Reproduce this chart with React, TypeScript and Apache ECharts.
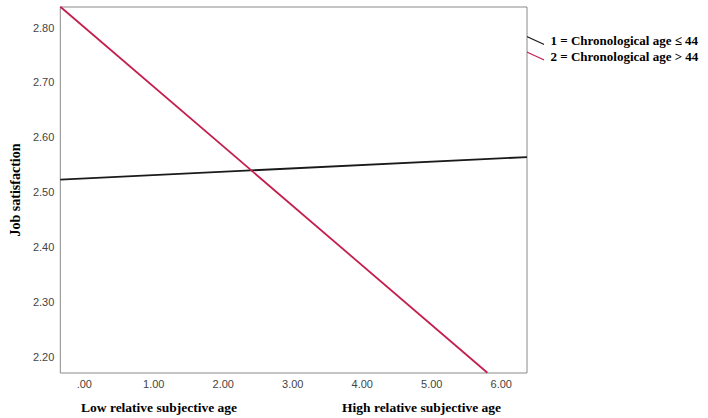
import React, { useEffect, useRef } from "react";
import * as echarts from "echarts";

const seriesNames = ["1 = Chronological age \u2264 44", "2 = Chronological age > 44"];
const seriesColors = ["#1a1a1a", "#c41f4e"];
const ageLe44X = [-0.345, 6.37];
const ageLe44Y = [2.523, 2.564];
const ageGt44X = [-0.345, 5.8];
const ageGt44Y = [2.838, 2.171];
const xTicks = [0, 1, 2, 3, 4, 5, 6];
const yTicks = [2.2, 2.3, 2.4, 2.5, 2.6, 2.7, 2.8];
const xRange = [-0.345, 6.37];
const yRange = [2.1705, 2.8375];
const xTitles = ["Low relative subjective age", "High relative subjective age"];
const yTitle = "Job satisfaction";

const serif = "'Liberation Serif', 'Times New Roman', serif";
const sans = "'Liberation Sans', Arial, sans-serif";

export default function App() {
  const ref = useRef<HTMLDivElement>(null);
  useEffect(() => {
    if (!ref.current) return;
    const chart = echarts.init(ref.current, null, { renderer: "svg" });
    const fmt = (v: number) => (v === 0 ? ".00" : v.toFixed(2));
    chart.setOption({
      animation: false,
      backgroundColor: "#ffffff",
      grid: {
        left: 51,
        top: 7,
        right: 181,
        bottom: 45,
        show: true,
        borderColor: "#8a8a8a",
        borderWidth: 1,
        backgroundColor: "transparent",
      },
      legend: {
        orient: "vertical",
        left: 527,
        top: 34,
        padding: 0,
        itemWidth: 20,
        itemHeight: 9,
        itemGap: 2.5,
        icon: "path://M0,0 L20,9 L20,10.6 L0,1.6 Z",
        textStyle: { fontFamily: serif, fontWeight: "bold", fontSize: 13, color: "#000" },
        data: seriesNames,
      },
      xAxis: {
        type: "value",
        min: xRange[0],
        max: xRange[1],
        axisLine: { show: false },
        axisTick: { show: false },
        splitLine: { show: false },
        axisLabel: {
          customValues: xTicks,
          formatter: fmt,
          fontFamily: sans,
          fontSize: 11,
          color: "#444",
          margin: 5,
        },
      },
      yAxis: {
        type: "value",
        min: yRange[0],
        max: yRange[1],
        axisLine: { show: false },
        axisTick: { show: false },
        splitLine: { show: false },
        name: yTitle,
        nameLocation: "middle",
        nameRotate: 90,
        nameGap: 38,
        nameTextStyle: { fontFamily: serif, fontWeight: "bold", fontSize: 14, color: "#000" },
        axisLabel: {
          customValues: yTicks,
          formatter: (v: number) => v.toFixed(2),
          fontFamily: sans,
          fontSize: 11,
          color: "#444",
          margin: 6,
        },
      },
      series: [
        {
          name: seriesNames[0],
          type: "line",
          showSymbol: false,
          color: seriesColors[0],
          lineStyle: { width: 1.8, color: seriesColors[0] },
          data: ageLe44X.map((x, i) => [x, ageLe44Y[i]]),
        },
        {
          name: seriesNames[1],
          type: "line",
          showSymbol: false,
          color: seriesColors[1],
          lineStyle: { width: 1.8, color: seriesColors[1] },
          data: ageGt44X.map((x, i) => [x, ageGt44Y[i]]),
        },
      ],
      graphic: [
        {
          type: "text",
          left: 81,
          top: 400,
          style: { text: xTitles[0], font: `bold 13.5px ${serif}`, fill: "#000" },
        },
        {
          type: "text",
          left: 342,
          top: 400,
          style: { text: xTitles[1], font: `bold 13.5px ${serif}`, fill: "#000" },
        },
      ],
    });
    return () => chart.dispose();
  }, []);
  return (
    <div
      ref={ref}
      style={{ position: "fixed", left: 0, top: 0, width: 708, height: 418, background: "#fff" }}
    />
  );
}
